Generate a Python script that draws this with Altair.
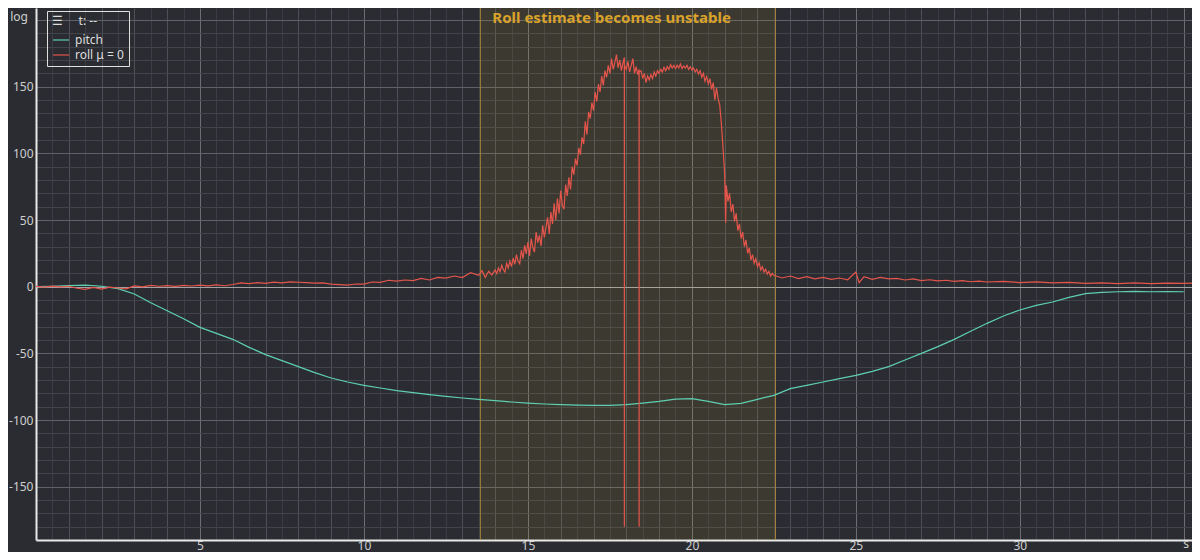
import altair as alt
import pandas as pd

# ---------------- data ----------------
pitch_t = [i * 0.5 for i in range(71)]
pitch_v = [0.0, 0.3, 0.8, 1.2, 0.3, -1.5, -5.5, -12.0, -18.0, -24.0,
           -30.5, -35.0, -39.5, -45.5, -51.0, -55.5, -60.0, -64.5, -68.5, -71.5,
           -74.0, -76.0, -78.0, -79.5, -81.0, -82.3, -83.5, -84.6, -85.5, -86.5,
           -87.3, -88.0, -88.5, -88.8, -89.0, -89.0, -88.5, -87.3, -86.0, -84.3,
           -84.0, -86.0, -88.5, -87.5, -84.5, -81.5, -76.5, -74.0, -71.5, -69.0,
           -66.5, -63.5, -60.0, -55.0, -50.0, -45.0, -39.5, -33.5, -27.5, -22.0,
           -17.5, -14.0, -11.5, -8.0, -5.2, -4.3, -3.8, -3.6, -3.8, -3.7,
           -3.8]

# roll: (time s, value) pairs
roll_points = [
    (0.0, 0.2), (0.25, -0.3), (0.5, 0.4), (0.75, -0.2), (1.0, 0.3), (1.25, -1.2),
    (1.5, -2.0), (1.75, -0.6), (2.0, -1.8), (2.25, -0.4), (2.5, -1.0), (2.75, -1.6),
    (3.0, 0.6), (3.25, -0.2), (3.5, 0.9), (3.75, 0.3), (4.0, 0.8), (4.25, 0.2),
    (4.5, 1.0), (4.75, 0.5), (5.0, 1.1), (5.25, 0.6), (5.5, 1.3), (5.75, 0.7),
    (6.0, 1.6), (6.25, 2.8), (6.5, 2.3), (6.75, 3.0), (7.0, 2.5), (7.25, 3.4),
    (7.5, 2.8), (7.75, 3.6), (8.0, 3.3), (8.25, 3.0), (8.5, 2.6), (8.75, 2.9),
    (9.0, 1.9), (9.25, 1.5), (9.5, 1.2), (9.75, 2.0), (10.0, 1.9), (10.25, 3.5),
    (10.5, 3.2), (10.75, 4.8), (11.0, 4.2), (11.25, 5.0), (11.5, 4.6), (11.75, 6.2),
    (12.0, 5.0), (12.25, 6.9), (12.5, 6.4), (12.75, 8.0), (13.0, 6.8), (13.25, 10.5),
    (13.5, 8.5), (13.6, 12.0), (13.7, 7.0), (13.8, 11.5), (13.9, 8.8),
    (14.00, 12.5), (14.05, 9.8), (14.10, 14.0), (14.15, 11.2), (14.20, 16.0),
    (14.25, 12.8), (14.30, 10.9), (14.35, 17.5), (14.40, 14.0), (14.45, 19.2),
    (14.50, 15.0), (14.55, 21.5), (14.60, 16.8), (14.65, 24.0), (14.70, 19.0),
    (14.75, 17.2), (14.80, 27.5), (14.85, 21.0), (14.90, 31.0), (14.95, 24.5),
    (15.00, 33.5), (15.05, 23.0), (15.10, 36.0), (15.15, 29.5), (15.20, 26.0),
    (15.25, 41.0), (15.30, 33.0), (15.35, 38.5), (15.40, 30.5), (15.45, 46.0),
    (15.50, 37.0), (15.55, 44.5), (15.60, 52.0), (15.65, 39.5), (15.70, 56.0),
    (15.75, 47.0), (15.80, 62.5), (15.85, 50.0), (15.90, 66.0), (15.95, 55.0),
    (16.00, 72.0), (16.05, 61.0), (16.10, 58.0), (16.15, 76.5), (16.20, 68.0),
    (16.25, 82.0), (16.30, 73.0), (16.35, 90.0), (16.40, 84.0), (16.45, 96.0),
    (16.50, 91.0), (16.55, 104.0), (16.60, 99.0), (16.65, 112.0), (16.70, 107.0),
    (16.75, 124.0), (16.80, 114.0), (16.85, 131.0), (16.90, 126.0), (16.95, 138.0),
    (17.00, 132.0), (17.05, 146.0), (17.10, 139.0), (17.15, 152.0), (17.20, 146.0),
    (17.25, 158.0), (17.30, 151.0), (17.35, 162.0), (17.40, 157.0), (17.45, 166.0),
    (17.50, 160.0), (17.55, 171.0), (17.60, 163.0), (17.65, 168.0), (17.70, 174.0),
    (17.75, 164.0), (17.80, 170.0), (17.85, 162.0), (17.90, 168.0),
    (17.940, 172.0), (17.941, -180.0), (17.942, 166.0),
    (18.00, 163.0), (18.05, 169.0), (18.10, 161.0), (18.15, 166.0), (18.20, 171.0),
    (18.25, 160.0), (18.30, 165.0), (18.35, 159.0),
    (18.390, 163.0), (18.391, -180.0), (18.392, 161.0),
    (18.45, 162.0), (18.50, 156.0), (18.55, 160.0), (18.60, 153.0), (18.65, 158.0),
    (18.70, 155.0), (18.75, 159.0), (18.80, 156.0), (18.85, 161.0), (18.90, 158.0),
    (18.95, 162.0), (19.00, 160.0), (19.05, 163.0), (19.10, 161.0), (19.15, 164.5),
    (19.20, 162.0), (19.25, 165.0), (19.30, 163.0), (19.35, 166.5), (19.40, 164.0),
    (19.45, 166.0), (19.50, 163.5), (19.55, 166.0), (19.60, 164.0), (19.65, 167.0),
    (19.70, 163.5), (19.75, 165.5), (19.80, 164.0), (19.85, 166.0), (19.90, 163.0),
    (19.95, 165.0), (20.00, 162.5), (20.05, 164.0), (20.10, 161.0), (20.15, 163.0),
    (20.20, 159.5), (20.25, 162.0), (20.30, 157.0), (20.35, 160.0), (20.40, 154.0),
    (20.45, 157.5), (20.50, 152.0), (20.55, 156.0), (20.60, 148.0), (20.65, 153.0),
    (20.70, 140.0), (20.75, 149.0), (20.80, 141.0), (20.85, 136.0), (20.90, 122.0),
    (20.95, 104.0), (21.00, 84.0), (21.03, 48.0), (21.05, 76.0), (21.10, 64.0),
    (21.15, 70.0), (21.20, 56.0), (21.25, 62.0), (21.30, 49.0), (21.35, 55.0),
    (21.40, 42.0), (21.45, 47.0), (21.50, 36.0), (21.55, 41.0), (21.60, 30.0),
    (21.65, 35.0), (21.70, 25.0), (21.75, 29.0), (21.80, 20.0), (21.85, 24.0),
    (21.90, 17.5), (21.95, 21.0), (22.00, 15.0), (22.05, 18.0), (22.10, 12.5),
    (22.15, 15.0), (22.20, 11.0), (22.25, 13.0), (22.30, 9.5), (22.35, 11.5),
    (22.40, 8.0), (22.45, 10.0),
    (22.5, 8.5), (22.75, 6.5), (23.0, 8.0), (23.25, 6.0), (23.5, 7.5), (23.75, 5.8),
    (24.0, 7.0), (24.25, 5.5), (24.5, 6.5), (24.75, 5.2), (25.0, 11.0), (25.1, 3.0),
    (25.25, 7.5), (25.5, 5.5), (25.75, 7.0), (26.0, 5.8), (26.25, 6.2), (26.5, 5.0),
    (26.75, 5.8), (27.0, 4.6), (27.25, 5.2), (27.5, 4.3), (27.75, 4.8), (28.0, 3.9),
    (28.25, 4.5), (28.5, 3.7), (28.75, 4.2), (29.0, 3.5), (29.5, 3.9), (30.0, 3.1),
    (30.5, 3.6), (31.0, 2.8), (31.5, 3.2), (32.0, 2.4), (32.5, 2.9), (33.0, 2.3),
    (33.5, 2.8), (34.0, 2.3), (34.5, 2.7), (35.0, 2.4), (35.25, 2.6),
]
roll_t = [p[0] for p in roll_points]
roll_v = [p[1] for p in roll_points]

series_names = ["pitch", "roll \u03bc = 0"]
series_colors = ["#5fcfb0", "#e5554c"]

region_start = [13.55]
region_end = [22.55]
region_label = ["Roll estimate becomes unstable"]

x_ticks = [i * 0.5 for i in range(71)]
y_ticks = list(range(-190, 210, 10))

# ---------------- build ----------------
df = pd.concat([
    pd.DataFrame({"t": pitch_t, "v": pitch_v, "series": series_names[0]}),
    pd.DataFrame({"t": roll_t, "v": roll_v, "series": series_names[1]}),
], ignore_index=True)

FONT = "Noto Sans"
W, H = 1156, 532

xscale = alt.Scale(domain=[0, 35.25], nice=False, zero=False)
yscale = alt.Scale(domain=[-190, 209], nice=False, zero=False)

x_axis = alt.Axis(
    values=x_ticks, title=None, grid=True, ticks=False,
    gridColor={"condition": [
        {"test": "datum.value % 5 === 0", "value": "#6b6d73"},
        {"test": "datum.value % 1 === 0", "value": "#4d5057"}],
        "value": "#3a3d44"},
    gridWidth=1,
    labelExpr="(datum.value % 5 === 0 && datum.value > 0 && datum.value < 35) ? ('' + datum.value) : ''",
    labelOverlap=False, labelFlush=False, labelPadding=0,
    labelColor="#cfcfcf", labelFont=FONT, labelFontSize=12,
    domainColor="#e8e8e8", domainWidth=2,
)
y_axis = alt.Axis(
    values=y_ticks, title=None, grid=True, ticks=False,
    gridColor={"condition": [
        {"test": "datum.value === 0", "value": "#a3a3a3"},
        {"test": "datum.value % 50 === 0", "value": "#5e6168"}],
        "value": "#41444b"},
    gridWidth=1,
    labelExpr="(datum.value % 50 === 0 && abs(datum.value) <= 150) ? ('' + datum.value) : ''",
    labelOverlap=False, labelFlush=False, labelPadding=3,
    labelColor="#cfcfcf", labelFont=FONT, labelFontSize=12,
    domainColor="#e8e8e8", domainWidth=2,
)

region_df = pd.DataFrame({"start": region_start, "end": region_end, "label": region_label})
edges_df = pd.DataFrame({"edge": region_start + region_end})

rect = alt.Chart(region_df).mark_rect(color="#d4a030", opacity=0.11).encode(
    x=alt.X("start:Q", scale=xscale, axis=x_axis),
    x2="end:Q",
    y=alt.value(0), y2=alt.value(H),
)
edges = alt.Chart(edges_df).mark_rule(color="#b08a38", strokeWidth=1, opacity=0.9).encode(
    x=alt.X("edge:Q", scale=xscale, axis=x_axis),
    y=alt.value(0), y2=alt.value(H),
)
lines = alt.Chart(df).mark_line(strokeWidth=1.2, interpolate="linear").encode(
    x=alt.X("t:Q", scale=xscale, axis=x_axis),
    y=alt.Y("v:Q", scale=yscale, axis=y_axis),
    color=alt.Color("series:N",
                    scale=alt.Scale(domain=series_names, range=series_colors),
                    legend=alt.Legend(
                        title="\u2630\u00a0\u00a0\u00a0\u00a0\u00a0t: --",
                        orient="none", legendX=11, legendY=3,
                        strokeColor="#e0e0e0", padding=5,
                        symbolType="stroke", symbolSize=256, symbolStrokeWidth=1.2,
                        labelFont=FONT, labelFontSize=12, labelColor="#dddddd",
                        titleFont=FONT, titleFontSize=12, titleColor="#dddddd",
                        titleFontWeight="normal", titlePadding=3, rowPadding=0,
                        labelOffset=5)),
    order=alt.Order("t:Q"),
)
title_txt = alt.Chart(region_df).mark_text(
    align="left", baseline="middle", dx=12, font=FONT, fontSize=15,
    fontWeight="bold", color="#d9a22a",
).encode(
    x=alt.X("start:Q", scale=xscale, axis=x_axis),
    y=alt.value(10),
    text="label:N",
)
ylab = alt.Chart(pd.DataFrame({"s": ["log"]})).mark_text(
    align="right", baseline="middle", font=FONT, fontSize=12, color="#cfcfcf",
).encode(x=alt.value(-8), y=alt.value(9), text="s:N")
xlab = alt.Chart(pd.DataFrame({"s": ["s"]})).mark_text(
    align="right", baseline="middle", font=FONT, fontSize=12, color="#cfcfcf",
).encode(x=alt.value(W - 3), y=alt.value(536), text="s:N")

chart = alt.layer(rect, edges, lines, title_txt, ylab, xlab).properties(
    width=W, height=H,
    autosize=alt.AutoSizeParams(type="none"),
    padding={"left": 28, "top": 0, "right": 0, "bottom": 12},
    background="#2a2c32",
).configure_view(stroke=None)

chart.save("out.html", embed_options={"renderer": "svg", "actions": False})
